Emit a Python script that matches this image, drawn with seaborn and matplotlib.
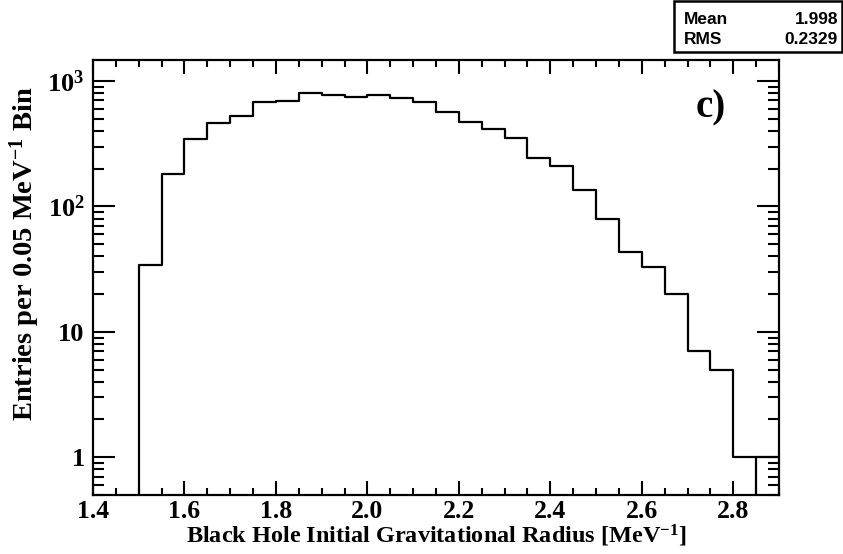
import numpy as np
import pandas as pd
import matplotlib
matplotlib.use("Agg")
import matplotlib.pyplot as plt
import matplotlib.ticker as mticker
from matplotlib.patches import Rectangle
import seaborn as sns

# ---- data ----
bin_edges = [1.50, 1.55, 1.60, 1.65, 1.70, 1.75, 1.80, 1.85, 1.90, 1.95, 2.00,
             2.05, 2.10, 2.15, 2.20, 2.25, 2.30, 2.35, 2.40, 2.45, 2.50,
             2.55, 2.60, 2.65, 2.70, 2.75, 2.80, 2.85, 2.90]
counts = [34, 182, 345, 460, 523, 683, 690, 806, 775, 745,
          777, 731, 683, 562, 474, 414, 353, 242, 209, 136,
          79, 43, 33, 20, 7, 5, 1, 1]
# edges where the drawn outline drops down to the bottom of the frame
drop_edges = [1.50, 2.85]
x_ticks = [1.4, 1.6, 1.8, 2.0, 2.2, 2.4, 2.6, 2.8]
x_tick_labels = ["1.4", "1.6", "1.8", "2.0", "2.2", "2.4", "2.6", "2.8"]
y_ticks = [1, 10, 100, 1000]
y_tick_labels = ["1", "10", r"$10^{2}$", r"$10^{3}$"]
stats_names = ["Mean", "RMS"]
stats_values = ["1.998", "0.2329"]
panel_label = "c)"
x_label = r"Black Hole Initial Gravitational Radius [MeV$^{-1}$]"
y_label = r"Entries per 0.05 MeV$^{-1}$ Bin"

sns.set_style("ticks")
plt.rcParams["font.family"] = ["Liberation Serif", "DejaVu Serif"]
plt.rcParams["font.weight"] = "bold"
plt.rcParams["text.color"] = "black"
plt.rcParams["axes.labelcolor"] = "black"
plt.rcParams["xtick.color"] = "black"
plt.rcParams["ytick.color"] = "black"
plt.rcParams["mathtext.fontset"] = "custom"
plt.rcParams["mathtext.rm"] = "Liberation Serif:bold"
plt.rcParams["mathtext.it"] = "Liberation Serif:bold"
plt.rcParams["mathtext.bf"] = "Liberation Serif:bold"
plt.rcParams["mathtext.default"] = "rm"

centers = [(a + b) / 2 for a, b in zip(bin_edges[:-1], bin_edges[1:])]
df = pd.DataFrame({"radius": centers, "entries": counts})

fig = plt.figure(figsize=(8.43, 5.54), dpi=100)
ax = fig.add_axes([93 / 843, 1 - 495 / 554, (779 - 93) / 843, (495 - 60) / 554])
ax.set_yscale("log")

lw = 1.6
sns.histplot(data=df, x="radius", weights="entries", bins=list(bin_edges),
             element="step", fill=False, color="black", linewidth=lw, ax=ax)

ax.set_xlim(1.4, 2.9)
ax.set_ylim(0.5, 1470)

# vertical drops derived from data
ymin = ax.get_ylim()[0]
drop_tops = [counts[bin_edges.index(e)] for e in drop_edges]
ax.vlines(drop_edges, ymin, drop_tops, colors="black", linewidth=lw)

# ticks
ax.set_xticks(x_ticks)
ax.set_xticklabels(x_tick_labels)
ax.xaxis.set_minor_locator(mticker.MultipleLocator(0.05))
ax.set_yticks(y_ticks)
ax.set_yticklabels(y_tick_labels)
ax.yaxis.set_minor_locator(mticker.LogLocator(base=10, subs=np.arange(2, 10)))
ax.yaxis.set_minor_formatter(mticker.NullFormatter())

ax.tick_params(which="both", direction="in", top=True, right=True, width=1.5,
               labelsize=19, colors="black")
ax.tick_params(axis="x", which="major", length=10, pad=3.5, labelsize=18.5)
ax.tick_params(axis="x", which="minor", length=5)
ax.tick_params(axis="y", which="major", length=16, pad=6)
ax.tick_params(axis="y", which="minor", length=8)
for lab in ax.get_xticklabels() + ax.get_yticklabels():
    lab.set_fontweight("bold")
    lab.set_color("black")

for s in ax.spines.values():
    s.set_linewidth(1.6)
    s.set_color("black")

ax.set_xlabel(x_label, fontsize=17.5, fontweight="bold", color="black",
              labelpad=0)
ax.set_ylabel(y_label, fontsize=20.5, fontweight="bold", color="black")
ax.yaxis.set_label_coords(-0.074, 0.556)

ax.text(0.901, 0.89, panel_label, transform=ax.transAxes, fontsize=28,
        fontweight="bold", ha="center", va="center", color="black")

# stats box
fig.add_artist(Rectangle((674 / 843, 1 - 52 / 554), 168 / 843, 51 / 554,
                         transform=fig.transFigure, fill=False,
                         edgecolor="black", linewidth=1.8))
row_y = [1 - 19 / 554, 1 - 40 / 554]
for name, val, yy in zip(stats_names, stats_values, row_y):
    fig.text(684 / 843, yy, name, fontsize=12.5, fontweight="bold",
             family=["Liberation Sans", "DejaVu Sans"], ha="left", va="center",
             color="black")
    fig.text(838 / 843, yy, val, fontsize=12.5, fontweight="bold",
             family=["Liberation Sans", "DejaVu Sans"], ha="right", va="center",
             color="black")

fig.savefig("out.png", dpi=100)
